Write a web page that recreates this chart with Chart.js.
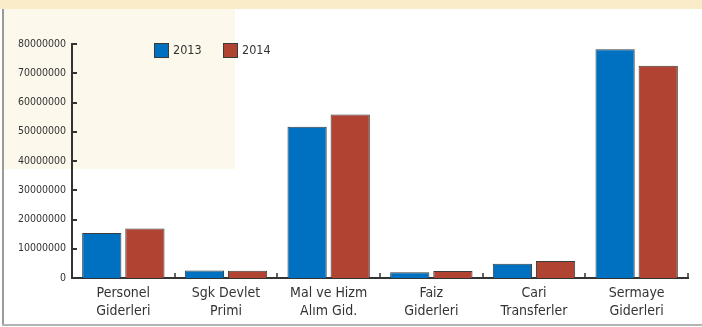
<!DOCTYPE html>
<html>
<head>
<meta charset="utf-8">
<script src="https://cdn.jsdelivr.net/npm/chart.js@4/dist/chart.umd.min.js"></script>
<style>
  html, body { margin: 0; padding: 0; background: #ffffff; }
  #wrap { width: 702px; height: 327px; position: relative; }
</style>
</head>
<body>
<div id="wrap"><canvas id="c" width="702" height="327"></canvas></div>
<script>
// Budget expense categories (two-line labels)
const categories = [
  ['Personel', 'Giderleri'],
  ['Sgk Devlet', 'Primi'],
  ['Mal ve Hizm', 'Alım Gid.'],
  ['Faiz', 'Giderleri'],
  ['Cari', 'Transferler'],
  ['Sermaye', 'Giderleri']
];
const seriesNames = ['2013', '2014'];
const values2013 = [15400000, 2600000, 51700000, 2000000, 4900000, 78200000];
const values2014 = [16900000, 2500000, 55900000, 2400000, 5800000, 72600000];
const yMax = 80000000;
const yStep = 10000000;

const FONT = '"DejaVu Sans Condensed", "DejaVu Sans", sans-serif';
const TEXT = '#333333';
const AXIS = '#333333';

// Page decoration: header band, shaded panel, frame lines
const backdrop = {
  id: 'backdrop',
  beforeDraw(chart) {
    const ctx = chart.ctx;
    ctx.save();
    ctx.fillStyle = '#ffffff';
    ctx.fillRect(0, 0, chart.width, chart.height);
    ctx.fillStyle = '#faecc9';
    ctx.fillRect(0, 0, chart.width, 9);
    ctx.fillStyle = '#fdf8ec';
    ctx.fillRect(4, 9, 231, 160);
    ctx.strokeStyle = '#9a9a9a';
    ctx.lineWidth = 2;
    ctx.beginPath();
    ctx.moveTo(3, 9);
    ctx.lineTo(3, 325);
    ctx.stroke();
    ctx.strokeStyle = '#b5b5b5';
    ctx.beginPath();
    ctx.moveTo(2, 325);
    ctx.lineTo(chart.width, 325);
    ctx.stroke();
    ctx.restore();
  }
};

// Inward tick marks on both axes, plus the legend
const axisMarks = {
  id: 'axisMarks',
  afterDraw(chart) {
    const ctx = chart.ctx;
    const x = chart.scales.x, y = chart.scales.y;
    const area = chart.chartArea;
    ctx.save();
    ctx.strokeStyle = AXIS;
    ctx.lineWidth = 2;
    ctx.beginPath();
    y.ticks.forEach((t, i) => {
      const py = Math.round(y.getPixelForTick(i));
      ctx.moveTo(area.left, py);
      ctx.lineTo(area.left + 5, py);
    });
    ctx.stroke();
    ctx.lineWidth = 1.5;
    ctx.beginPath();
    const n = categories.length;
    for (let i = 1; i <= n; i++) {
      const px = Math.round(x.getPixelForValue(i - 0.5));
      ctx.moveTo(px, area.bottom);
      ctx.lineTo(px, area.bottom - 5);
    }
    ctx.stroke();

    // legend
    let lx = 154;
    const ly = 43;
    chart.data.datasets.forEach((ds, i) => {
      ctx.fillStyle = ds.backgroundColor;
      ctx.fillRect(lx, ly, 15, 15);
      ctx.strokeStyle = '#3a3a3a';
      ctx.lineWidth = 1;
      ctx.strokeRect(lx + 0.5, ly + 0.5, 14, 14);
      ctx.fillStyle = TEXT;
      ctx.font = '12.5px ' + FONT;
      ctx.textBaseline = 'middle';
      ctx.textAlign = 'left';
      ctx.fillText(ds.label, lx + 19, ly + 8);
      lx += 69;
    });
    ctx.restore();
  }
};

new Chart(document.getElementById('c'), {
  type: 'bar',
  data: {
    labels: categories,
    datasets: [
      { label: seriesNames[0], data: values2013, backgroundColor: '#0070c0', borderColor: '#3c3c3c', borderWidth: 1 },
      { label: seriesNames[1], data: values2014, backgroundColor: '#b04332', borderColor: '#3c3c3c', borderWidth: 1 }
    ]
  },
  options: {
    responsive: false,
    animation: false,
    devicePixelRatio: 1,
    categoryPercentage: 0.84,
    barPercentage: 0.91,
    layout: { padding: { left: 0, right: 14, top: 44, bottom: 0 } },
    plugins: { legend: { display: false }, tooltip: { enabled: false } },
    scales: {
      x: {
        grid: { display: false, drawTicks: false },
        border: { display: true, color: AXIS, width: 2 },
        ticks: { color: TEXT, font: { family: FONT, size: 14, lineHeight: 1.3 }, padding: 6, maxRotation: 0, autoSkip: false },
        afterFit(scale) { scale.height = 49; }
      },
      y: {
        min: 0,
        max: yMax,
        grid: { display: false, drawTicks: false },
        border: { display: true, color: AXIS, width: 2 },
        ticks: {
          stepSize: yStep,
          color: TEXT,
          font: { family: FONT, size: 10.5 },
          padding: 6,
          callback: (v) => String(v)
        },
        afterFit(scale) { scale.width = 72; }
      }
    }
  },
  plugins: [backdrop, axisMarks]
});
</script>
</body>
</html>
